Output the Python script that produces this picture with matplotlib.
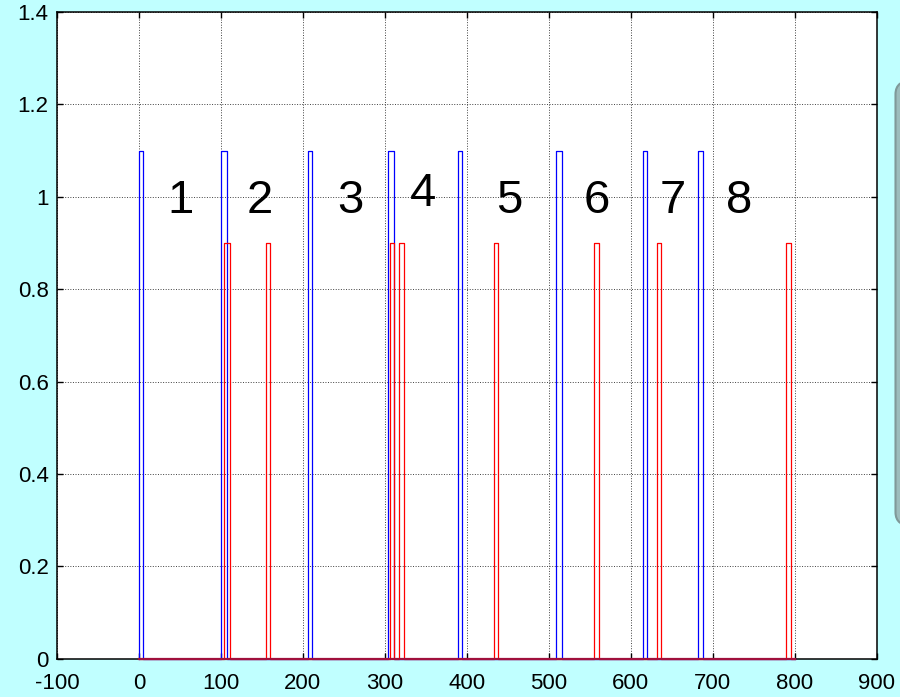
import numpy as np
import matplotlib
matplotlib.use('Agg')
import matplotlib.pyplot as plt
from matplotlib.patches import FancyBboxPatch

# pulse edges
blue_start = [0, 100, 206, 304, 389, 509, 615, 682]
blue_end = [5, 107, 211, 311, 394, 516, 620, 688]
blue_level = 1.1
red_start = [104, 155, 306, 317, 433, 555, 632, 789]
red_end = [111, 160, 311, 323, 438, 561, 637, 795]
red_level = 0.9
trace_stop = 800

labels = ['1', '2', '3', '4', '5', '6', '7', '8']
label_x = [51, 148, 258, 347, 452, 559, 651, 732]
label_y = [0.99, 0.99, 0.99, 1.005, 0.99, 0.99, 0.99, 0.99]

xticks = [-100, 0, 100, 200, 300, 400, 500, 600, 700, 800, 900]
yticks = [0, 0.2, 0.4, 0.6, 0.8, 1, 1.2, 1.4]
ytick_labels = ['0', '0.2', '0.4', '0.6', '0.8', '1', '1.2', '1.4']


def pulse_train(starts, ends, level, stop):
    xs = [0]
    ys = [0]
    for s, e in zip(starts, ends):
        xs += [s, s, e, e]
        ys += [0, level, level, 0]
    xs.append(stop)
    ys.append(0)
    return xs, ys


plt.rcParams['font.family'] = ['Liberation Sans', 'DejaVu Sans']
plt.rcParams['axes.unicode_minus'] = False

fig = plt.figure(figsize=(9, 6.97), dpi=100, facecolor='#C0FFFF')
ax = fig.add_axes([0.0633, 0.0548, 0.9107, 0.928])
ax.set_facecolor('white')

bx, by = pulse_train(blue_start, blue_end, blue_level, trace_stop)
rx, ry = pulse_train(red_start, red_end, red_level, trace_stop)
ax.plot(bx, by, color='#0000ff', lw=0.9, clip_on=False, zorder=3)
ax.plot(rx, ry, color='#ff0000', lw=0.9, clip_on=False, zorder=4)
# the zero level reads as a heavier dark-red line where the traces overlap
ax.plot([0, trace_stop], [0, 0], color='#a0103c', lw=1.6, clip_on=False, zorder=5)

for t, x, y in zip(labels, label_x, label_y):
    ax.text(x, y, t, fontsize=34, ha='center', va='center', color='black')

ax.set_xlim(-100, 900)
ax.set_ylim(0, 1.4)
ax.set_xticks(xticks)
ax.set_yticks(yticks)
ax.set_yticklabels(ytick_labels)
ax.grid(True, color='#404040', linestyle=':', linewidth=0.7)
ax.tick_params(direction='in', length=4, width=1, top=True, right=True,
               labelsize=16, colors='black')
ax.tick_params(axis='x', pad=10)
ax.tick_params(axis='y', pad=6)
for sp in ax.spines.values():
    sp.set_linewidth(1.1)
    sp.set_color('black')

# partly hidden panel at the right edge
box = FancyBboxPatch((0.9950, 0.245), 0.05, 0.64, boxstyle='round,pad=0,rounding_size=0.02',
                     transform=fig.transFigure, facecolor='#9cbcbc', edgecolor='#7f9999',
                     linewidth=1.5, clip_on=False)
fig.patches.append(box)

fig.savefig('out.png', dpi=100, facecolor=fig.get_facecolor())
